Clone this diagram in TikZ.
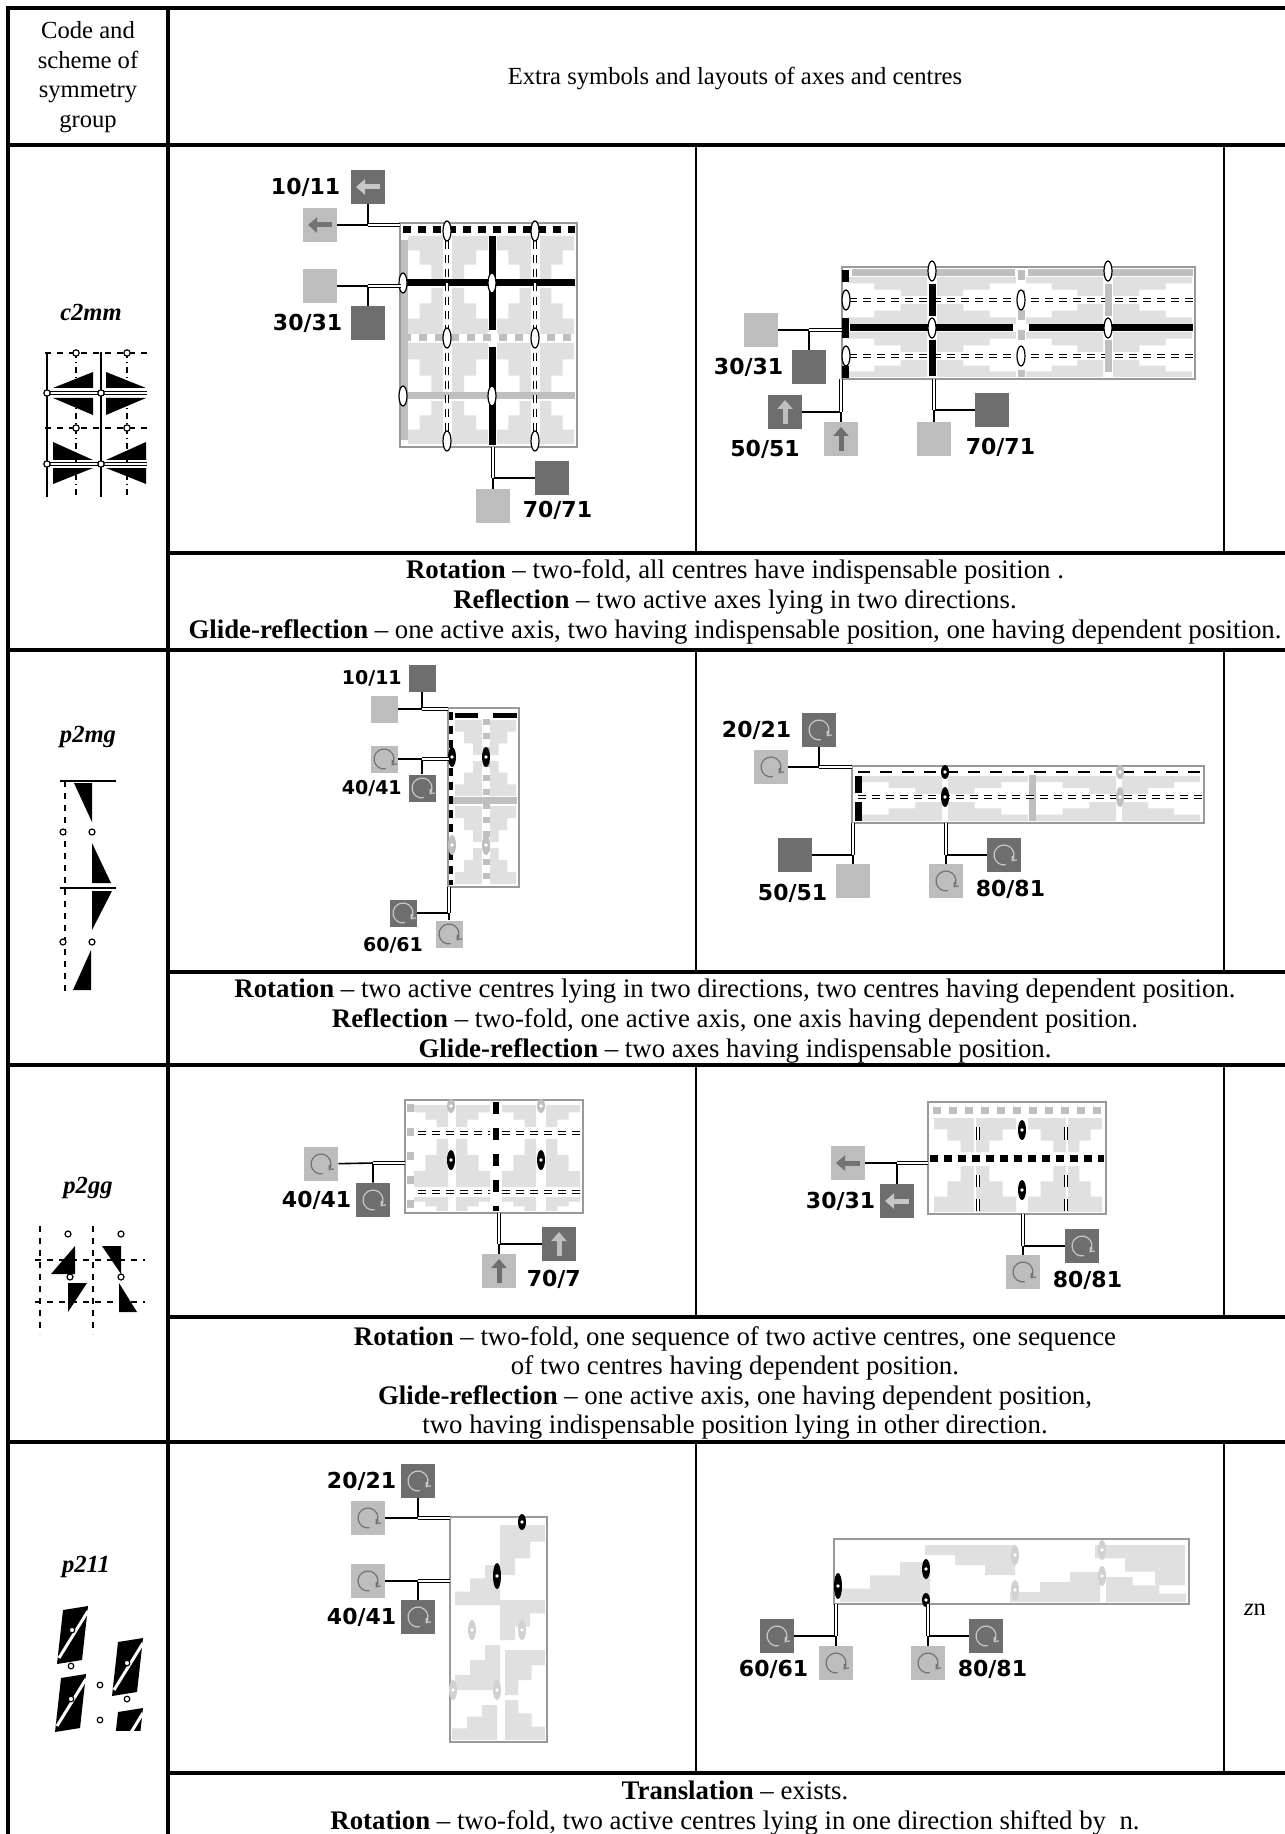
\documentclass[tikz,border=0pt]{standalone}
\usepackage{fontspec}
\setmainfont{Liberation Serif}
\newfontfamily\lblfont{DejaVu Sans}
\usetikzlibrary{arrows.meta, positioning, shapes.geometric}

% light stair patch of a screenshot: x, y, width, height
\newcommand{\stairs}[4]{\fill[pat] (#1,#2) -- ++(#3,0) -- ++(0,#4) -- ++({-(#3)/3},0) -- ++(0,{-(#4)/3}) -- ++({-(#3)/3},0) -- ++(0,{-(#4)/3}) -- ++({-(#3)/3},0) -- cycle;}
% black slanted motif of p211
\newcommand{\pgram}[2]{\fill (#1+6,#2+4) -- (#1+31,#2) -- (#1+25,#2+54) -- (#1,#2+58) -- cycle;
  \draw[white, line width=1.5pt] (#1+31,#2+5) -- (#1+2,#2+52);}

\tikzset{
  txt/.style={font=\fontsize{12.3}{14.8}\selectfont, align=center, inner sep=0pt},
  rtxt/.style={font=\fontsize{13.4}{14.8}\selectfont, align=center, inner sep=0pt},
  grp/.style={font=\fontsize{12.3}{14.8}\selectfont\bfseries\itshape, inner sep=0pt},
  lbl/.style={font=\lblfont\bfseries\fontsize{11}{11}\selectfont, inner sep=0pt},
  slbl/.style={font=\lblfont\bfseries\fontsize{9.5}{9.5}\selectfont, inner sep=0pt},
  sqd/.style={fill=black!57, minimum size=17pt, inner sep=0pt},
  sql/.style={fill=black!26, minimum size=17pt, inner sep=0pt},
  small/.style={minimum size=13.5pt},
  larr/.style={path picture={\draw[line width=2.5pt, #1, -{Triangle[length=4.5pt,width=7.5pt]}]
      ([xshift=-2.5pt]path picture bounding box.east) -- ([xshift=2.5pt]path picture bounding box.west);}},
  uarr/.style={path picture={\draw[line width=2.5pt, #1, -{Triangle[length=4.5pt,width=7.5pt]}]
      ([yshift=2.5pt]path picture bounding box.south) -- ([yshift=-2.5pt]path picture bounding box.north);}},
  rotsym/.style={path picture={\draw[line width=0.6pt, #1, -{Straight Barb[length=1.8pt,width=3pt]}]
      ([shift={(-80:5pt)}]path picture bounding box.center) arc[start angle=-80, end angle=-400, radius=5pt];}},
  panel/.style={draw=black!40, line width=1pt},
  pat/.style={fill=black!12},
  blax/.style={line width=3.5pt},
  grax/.style={line width=3.5pt, black!25},
  dashax/.style={line width=3.5pt, dash pattern=on 4pt off 3.5pt},
  glide/.style={double, double distance=1pt, line width=0.5pt, dash pattern=on 4pt off 3pt},
  cen/.style={ellipse, draw, fill=white, line width=0.6pt, minimum width=4pt, minimum height=10pt, inner sep=0pt},
  bcen/.style={ellipse, fill=black, minimum width=4pt, minimum height=10pt, inner sep=0pt,
      path picture={\fill[white] (path picture bounding box.center) circle[radius=0.9pt];}},
  gcen/.style={bcen, fill=black!25},
  ln/.style={line width=0.8pt},
  dbl/.style={double, double distance=1pt, line width=0.5pt},
  tabline/.style={line width=1.6pt},
  colline/.style={line width=0.7pt},
  sch/.style={line width=0.6pt}
}

\begin{document}
\begin{tikzpicture}[x=0.5pt, y=-0.5pt]
\fill[white] (0,0) rectangle (1284,1834);
\useasboundingbox (0,0) rectangle (1284,1834);

% table rules
\draw[tabline] (8,1840) -- (8,8) -- (1290,8);
\draw[tabline] (168,8) -- (168,1840);
\foreach \y in {145,650,1065,1442} \draw[tabline] (8,\y) -- (1290,\y);
\foreach \y in {553,972,1317,1773} \draw[tabline] (168,\y) -- (1290,\y);
\foreach \a/\b in {145/553,650/972,1065/1317,1442/1773}
  \draw[colline] (696,\a) -- (696,\b) (1224,\a) -- (1224,\b);

% header
\node[txt] (hcode) at (88,77) {Code and\\scheme of\\symmetry\\group};
\node[txt] (hextra) at (735,78) {Extra symbols and layouts of axes and centres};

% group codes
\node[grp] (gc2mm) at (91,312) {c2mm};
\node[grp] (gp2mg) at (88,737) {p2mg};
\node[grp] (gp2gg) at (88,1188) {p2gg};
\node[grp] (gp211) at (86,1567) {p211};
\node[txt] (zn) at (1255,1610) {\textit{z}n};

% ---------- schemes of the groups
% c2mm
\draw[sch] (47,352) -- (47,497) (101,352) -- (101,497);
\draw[sch, dash dot] (76,352) -- (76,497) (127,352) -- (127,497);
\draw[sch, dashed] (45,353) -- (147,353) (45,428) -- (147,428);
\draw[sch, double, double distance=1.2pt] (45,393) -- (147,393) (45,464) -- (147,464);
\fill (53,388) -- (93,372) -- (93,388) -- cycle;
\fill (53,398) -- (93,398) -- (93,415) -- cycle;
\fill (106,372) -- (146,388) -- (106,388) -- cycle;
\fill (106,398) -- (146,398) -- (106,415) -- cycle;
\fill (53,442) -- (53,460) -- (93,460) -- cycle;
\fill (53,468) -- (93,468) -- (53,484) -- cycle;
\fill (146,442) -- (146,460) -- (106,460) -- cycle;
\fill (106,468) -- (146,468) -- (146,484) -- cycle;
\foreach \x/\y in {47/393,101/393,47/464,101/464,76/353,127/353,76/428,127/428}
  \filldraw[sch, fill=white] (\x,\y) circle[radius=1.6pt];
% p2mg
\draw[sch] (60,781) -- (116,781) (60,888) -- (116,888);
\draw[sch, dashed] (65,781) -- (65,995);
\fill (74,783) -- (92,783) -- (92,822) -- cycle;
\fill (92,843) -- (92,883) -- (111,883) -- cycle;
\fill (92,891) -- (112,891) -- (92,930) -- cycle;
\fill (91,950) -- (91,990) -- (73,990) -- cycle;
\foreach \x/\y in {63/832,92/832,63/942,92/942}
  \filldraw[sch, fill=white] (\x,\y) circle[radius=1.5pt];
% p2gg
\draw[sch, dashed] (40,1226) -- (40,1334) (93,1226) -- (93,1334);
\draw[sch, dashed] (35,1260) -- (145,1260) (35,1302) -- (145,1302);
\fill (75,1246) -- (75,1274) -- (51,1274) -- cycle;
\fill (102,1246) -- (121,1246) -- (121,1274) -- cycle;
\fill (68,1283) -- (87,1283) -- (68,1312) -- cycle;
\fill (119,1283) -- (119,1312) -- (137,1312) -- cycle;
\foreach \x/\y in {68/1234,121/1234,70/1277,121/1277}
  \filldraw[sch, fill=white] (\x,\y) circle[radius=1.5pt];
% p211
\pgram{57}{1606}
\pgram{112}{1638}
\pgram{55}{1674}
\begin{scope}
  \clip (100,1700) rectangle (150,1730);
  \pgram{112}{1708}
\end{scope}
\foreach \x/\y in {72/1630,71/1666,100/1685,100/1720,127/1663,127/1699,71/1699}
  \filldraw[sch, fill=white] (\x,\y) circle[radius=1.4pt];

% ---------- c2mm, left
\draw[panel] (400,223) rectangle (577,447);
\foreach \x/\w in {408/35,488/-36,497/34,574/-34}
  \foreach \y/\h in {236/43,334/-46,343/49,444/-43}
    {\stairs{\x}{\y}{\w}{\h}}
\draw[grax] (404,240) -- (404,440);
\draw[dashax] (403,230) -- (575,230);
\draw[blax] (403,283) -- (575,283);
\draw[grax, dash pattern=on 4pt off 4pt] (403,338) -- (575,338);
\draw[grax] (403,396) -- (575,396);
\draw[glide] (447,227) -- (447,445) (535,227) -- (535,445);
\draw[blax] (492,236) -- (492,330) (492,347) -- (492,445);
\foreach \x/\y [count=\i] in {447/231,535/231,403/283,492/283,447/338,535/338,403/396,492/396,447/441,535/441}
  \node[cen] (acen\i) at (\x,\y) {};
\node[sqd, larr=black!22] (a10d) at (368,187) {};
\node[sql, larr=black!55] (a10l) at (320,225) {};
\node[lbl, left=5pt of a10d] (a10t) {10/11};
\node[sql] (a30l) at (320,286) {};
\node[sqd] (a30d) at (368,323) {};
\node[lbl, left=4pt of a30d] (a30t) {30/31};
\node[sql] (a70l) at (493,506) {};
\node[sqd] (a70d) at (552,478) {};
\node[lbl, right=6pt of a70l, yshift=-2pt] (a70t) {70/71};
\coordinate (aj1) at (368,225); \coordinate (ap1) at (400,225);
\coordinate (aj2) at (368,286); \coordinate (ap2) at (401,286);
\coordinate (aj3) at (493,478); \coordinate (ap3) at (493,447);
\draw[ln] (a10l) -- (aj1) -- (a10d);
\draw[ln] (a30l) -- (aj2) -- (a30d);
\draw[ln] (a70d) -- (aj3) -- (a70l);
\draw[dbl] (aj1) -- (ap1) (aj2) -- (ap2) (ap3) -- (aj3);

% ---------- c2mm, right
\draw[panel] (842,267) rectangle (1195,379);
\foreach \x/\w in {848/79,1016/-79,1026/77,1192/-79}
  \foreach \y/\h in {277/19,324/-20,332/20,377/-17}
    {\stairs{\x}{\y}{\w}{\h}}
\draw[grax] (852,273) -- (1015,273) (1028,273) -- (1193,273);
\draw[glide] (849,300) -- (1193,300) (849,356) -- (1193,356);
\draw[blax] (850,328) -- (1013,328) (1029,328) -- (1193,328);
\draw[blax] (932,284) -- (932,316) (932,340) -- (932,376);
\draw[grax, dash pattern=on 5pt off 5pt] (1021,270) -- (1021,377);
\draw[grax] (1108,284) -- (1108,316) (1108,340) -- (1108,372);
\draw[blax] (845,270) -- (845,282) (845,318) -- (845,338) (845,366) -- (845,378);
\foreach \x/\y [count=\i] in {932/271,932/328,1108/271,1108/328,1021/300,1021/356,846/300,846/356}
  \node[cen] (bcen\i) at (\x,\y) {};
\node[sql] (b30l) at (761,330) {};
\node[sqd] (b30d) at (809,367) {};
\node[lbl, left=4pt of b30d] (b30t) {30/31};
\node[sqd, uarr=black!25] (b50d) at (785,412) {};
\node[sql, uarr=black!57] (b50l) at (841,439) {};
\node[lbl, below=5pt of b50d, xshift=-10pt] (b50t) {50/51};
\node[sql] (b70l) at (934,439) {};
\node[sqd] (b70d) at (992,410) {};
\node[lbl, right=7pt of b70l, yshift=-4pt] (b70t) {70/71};
\coordinate (bj1) at (809,330); \coordinate (bp1) at (842,330);
\coordinate (bj2) at (841,412); \coordinate (bp2) at (841,379);
\coordinate (bj3) at (934,410); \coordinate (bp3) at (934,379);
\draw[ln] (b30l) -- (bj1) -- (b30d);
\draw[ln] (b50d) -- (bj2) -- (b50l);
\draw[ln] (b70d) -- (bj3) -- (b70l);
\draw[dbl] (bj1) -- (bp1) (bp2) -- (bj2) (bp3) -- (bj3);

% row text c2mm
\node[rtxt] (t1) at (735,602) {\textbf{Rotation} – two-fold, all centres have indispensable position .\\
  \textbf{Reflection} – two active axes lying in two directions.\\
  \textbf{Glide-reflection} – one active axis, two having indispensable position, one having dependent position.};

% ---------- p2mg, left
\draw[panel] (448,708) rectangle (519,887);
\foreach \x/\w in {455/27,516/-26}
  \foreach \y/\h in {720/35,796/-35,806/36,884/-36}
    {\stairs{\x}{\y}{\w}{\h}}
\draw[grax] (452,800) -- (517,800);
\draw[grax, dash pattern=on 3pt off 4pt] (486,719) -- (486,885);
\draw[line width=2pt, dash pattern=on 4pt off 3pt] (451,712) -- (451,885);
\draw[line width=2.5pt] (455,715) -- (478,715) (493,715) -- (517,715);
\node[bcen] (ccen1) at (486,757) {};
\node[bcen] (ccen2) at (452,757) {};
\node[gcen] (ccen3) at (452,845) {};
\node[gcen] (ccen4) at (486,845) {};
\node[sqd, small] (c10d) at (422,678) {};
\node[sql, small] (c10l) at (384,709) {};
\node[slbl, left=3pt of c10d] (c10t) {10/11};
\node[sql, small, rotsym=black!55] (c40l) at (384,759) {};
\node[sqd, small, rotsym=black!22] (c40d) at (422,788) {};
\node[slbl, left=3pt of c40d] (c40t) {40/41};
\node[sqd, small, rotsym=black!22] (c60d) at (403,913) {};
\node[sql, small, rotsym=black!55] (c60l) at (449,934) {};
\node[slbl, below=5pt of c60d, xshift=-5pt] (c60t) {60/61};
\coordinate (cj1) at (422,709); \coordinate (cp1) at (448,709);
\coordinate (cj2) at (422,759); \coordinate (cp2) at (449,759);
\coordinate (cj3) at (449,913); \coordinate (cp3) at (449,887);
\draw[ln] (c10l) -- (cj1) -- (c10d);
\draw[ln] (c40l) -- (cj2) -- (c40d);
\draw[ln] (c60d) -- (cj3) -- (c60l);
\draw[dbl] (cj1) -- (cp1) (cj2) -- (cp2) (cp3) -- (cj3);

% ---------- p2mg, right
\draw[panel] (852,766) rectangle (1204,823);
\foreach \x/\w in {862/80,1028/-80,1036/80,1200/-78}
  \foreach \y/\h in {776/18,821/-19}
    {\stairs{\x}{\y}{\w}{\h}}
\draw[grax] (1032,775) -- (1032,821);
\draw[line width=1pt, dash pattern=on 6pt off 5pt] (858,772) -- (1202,772);
\draw[glide] (858,797) -- (1202,797);
\draw[blax] (858,776) -- (858,793) (858,802) -- (858,821);
\node[bcen] (dcen1) at (945,797) {};
\node[bcen, minimum height=7pt] (dcen2) at (945,772) {};
\node[gcen] (dcen3) at (1120,797) {};
\node[gcen, minimum height=7pt] (dcen4) at (1120,772) {};
\node[sqd, rotsym=black!22] (d20d) at (819,730) {};
\node[sql, rotsym=black!55] (d20l) at (771,767) {};
\node[lbl, left=5pt of d20d] (d20t) {20/21};
\node[sqd] (d50d) at (795,855) {};
\node[sql] (d50l) at (853,881) {};
\node[lbl, left=4pt of d50l, yshift=-6pt] (d50t) {50/51};
\node[sql, rotsym=black!55] (d80l) at (946,881) {};
\node[sqd, rotsym=black!22] (d80d) at (1004,855) {};
\node[lbl, right=6pt of d80l, yshift=-4pt] (d80t) {80/81};
\coordinate (dj1) at (819,767); \coordinate (dp1) at (852,767);
\coordinate (dj2) at (853,855); \coordinate (dp2) at (853,823);
\coordinate (dj3) at (946,855); \coordinate (dp3) at (946,823);
\draw[ln] (d20l) -- (dj1) -- (d20d);
\draw[ln] (d50d) -- (dj2) -- (d50l);
\draw[ln] (d80d) -- (dj3) -- (d80l);
\draw[dbl] (dj1) -- (dp1) (dp2) -- (dj2) (dp3) -- (dj3);

% row text p2mg
\node[rtxt] (t2) at (735,1021) {\textbf{Rotation} – two active centres lying in two directions, two centres having dependent position.\\
  \textbf{Reflection} – two-fold, one active axis, one axis having dependent position.\\
  \textbf{Glide-reflection} – two axes having indispensable position.};

% ---------- p2gg, left
\draw[panel] (405,1100) rectangle (583,1213);
\foreach \x/\w in {414/34,490/-34,502/34,580/-34}
  \foreach \y/\h in {1105/22,1187/-48,1197/14}
    {\stairs{\x}{\y}{\w}{\h}}
\draw[grax, dash pattern=on 4pt off 8pt] (410,1104) -- (410,1211);
\draw[glide] (418,1133) -- (490,1133) (502,1133) -- (581,1133);
\draw[glide] (418,1192) -- (490,1192) (502,1192) -- (581,1192);
\draw[line width=3pt, dash pattern=on 6pt off 7pt] (496,1102) -- (496,1211);
\node[bcen] (ecen1) at (451,1160) {};
\node[bcen] (ecen2) at (541,1160) {};
\node[gcen, minimum height=7pt] (ecen3) at (451,1106) {};
\node[gcen, minimum height=7pt] (ecen4) at (541,1106) {};
\node[sql, rotsym=black!55] (e40l) at (321,1164) {};
\node[sqd, rotsym=black!22] (e40d) at (373,1200) {};
\node[lbl, left=2pt of e40d] (e40t) {40/41};
\node[sql, uarr=black!57] (e70l) at (499,1271) {};
\node[sqd, uarr=black!25] (e70d) at (559,1244) {};
\node[lbl, right=5pt of e70l, yshift=-4pt] (e70t) {70/7};
\coordinate (ej1) at (373,1163); \coordinate (ep1) at (405,1163);
\coordinate (ej2) at (499,1244); \coordinate (ep2) at (499,1213);
\draw[ln] (e40l) -- (ej1) -- (e40d);
\draw[ln] (e70d) -- (ej2) -- (e70l);
\draw[dbl] (ej1) -- (ep1) (ep2) -- (ej2);

% ---------- p2gg, right
\draw[panel] (928,1102) rectangle (1106,1214);
\foreach \x/\w in {934/40,1016/-40,1028/38,1102/-34}
  \foreach \y/\h in {1118/34,1212/-46}
    {\stairs{\x}{\y}{\w}{\h}}
\draw[grax, dash pattern=on 4pt off 4pt] (933,1110) -- (1104,1110);
\draw[blax, dash pattern=on 4pt off 3pt] (930,1158) -- (1104,1158);
\foreach \x in {978,1066}
  \draw[dbl] (\x,1127) -- (\x,1140) (\x,1175) -- (\x,1187) (\x,1199) -- (\x,1211);
\node[bcen] (fcen1) at (1022,1130) {};
\node[bcen] (fcen2) at (1022,1190) {};
\node[sql, larr=black!55] (f30l) at (848,1163) {};
\node[sqd, larr=black!22] (f30d) at (897,1201) {};
\node[lbl, left=2pt of f30d] (f30t) {30/31};
\node[sqd, rotsym=black!22] (f80d) at (1082,1246) {};
\node[sql, rotsym=black!55] (f80l) at (1023,1272) {};
\node[lbl, right=6pt of f80l, yshift=-4pt] (f80t) {80/81};
\coordinate (fj1) at (897,1163); \coordinate (fp1) at (928,1163);
\coordinate (fj2) at (1023,1246); \coordinate (fp2) at (1023,1214);
\draw[ln] (f30l) -- (fj1) -- (f30d);
\draw[ln] (f80d) -- (fj2) -- (f80l);
\draw[dbl] (fj1) -- (fp1) (fp2) -- (fj2);

% row text p2gg
\node[rtxt] (t3) at (735,1383) {\textbf{Rotation} – two-fold, one sequence of two active centres, one sequence\\
  of two centres having dependent position.\\
  \textbf{Glide-reflection} – one active axis, one having dependent position,\\
  two having indispensable position lying in other direction.};

% ---------- p211, left
\draw[panel] (450,1517) rectangle (547,1742);
\foreach \x/\y/\w/\h in {545/1525/-45/50,455/1605/45/-40,545/1600/-45/40,455/1690/45/-45,545/1650/-40/45,452/1740/45/-35,545/1740/-40/-40}
  {\stairs{\x}{\y}{\w}{\h}}
\node[bcen, minimum height=8pt] (gcen1) at (522,1522) {};
\node[bcen, minimum height=13pt] (gcen2) at (497,1576) {};
\foreach \x/\y [count=\i] in {472/1630,522/1630,453/1690,497/1690}
  \node[gcen, fill=black!18] (gcg\i) at (\x,\y) {};
\node[sqd, rotsym=black!22] (g20d) at (418,1481) {};
\node[sql, rotsym=black!55] (g20l) at (368,1518) {};
\node[lbl, left=2pt of g20d] (g20t) {20/21};
\node[sql, rotsym=black!55] (g40l) at (368,1581) {};
\node[sqd, rotsym=black!22] (g40d) at (418,1617) {};
\node[lbl, left=2pt of g40d] (g40t) {40/41};
\coordinate (gj1) at (418,1518); \coordinate (gp1) at (450,1518);
\coordinate (gj2) at (418,1581); \coordinate (gp2) at (450,1581);
\draw[ln] (g20l) -- (gj1) -- (g20d);
\draw[ln] (g40l) -- (gj2) -- (g40d);
\draw[dbl] (gj1) -- (gp1) (gj2) -- (gp2);

% ---------- p211, right
\draw[panel] (834,1539) rectangle (1189,1604);
\foreach \x/\y/\w/\h in {840/1602/90/-40,925/1545/90/30,1010/1602/90/-30,1095/1545/90/40,1186/1602/-80/-25}
  {\stairs{\x}{\y}{\w}{\h}}
\node[bcen] (hcen1) at (926,1569) {};
\node[bcen, minimum height=13pt] (hcen2) at (838,1586) {};
\node[bcen, minimum height=7pt] (hcen3) at (926,1600) {};
\foreach \x/\y [count=\i] in {1015/1555,1015/1590,1102/1550,1102/1576}
  \node[gcen, fill=black!18] (hcg\i) at (\x,\y) {};
\node[sqd, rotsym=black!22] (h60d) at (777,1636) {};
\node[sql, rotsym=black!55] (h60l) at (836,1663) {};
\node[lbl, left=5pt of h60l, yshift=-3pt] (h60t) {60/61};
\node[sql, rotsym=black!55] (h80l) at (928,1663) {};
\node[sqd, rotsym=black!22] (h80d) at (986,1636) {};
\node[lbl, right=6pt of h80l, yshift=-3pt] (h80t) {80/81};
\coordinate (hj1) at (836,1636); \coordinate (hp1) at (836,1604);
\coordinate (hj2) at (928,1636); \coordinate (hp2) at (928,1604);
\draw[ln] (h60d) -- (hj1) -- (h60l);
\draw[ln] (h80d) -- (hj2) -- (h80l);
\draw[dbl] (hp1) -- (hj1) (hp2) -- (hj2);

% row text p211
\node[rtxt] (t4) at (735,1808) {\textbf{Translation} – exists.\\
  \textbf{Rotation} – two-fold, two active centres lying in one direction shifted by\ \ n.};
\end{tikzpicture}
\end{document}
